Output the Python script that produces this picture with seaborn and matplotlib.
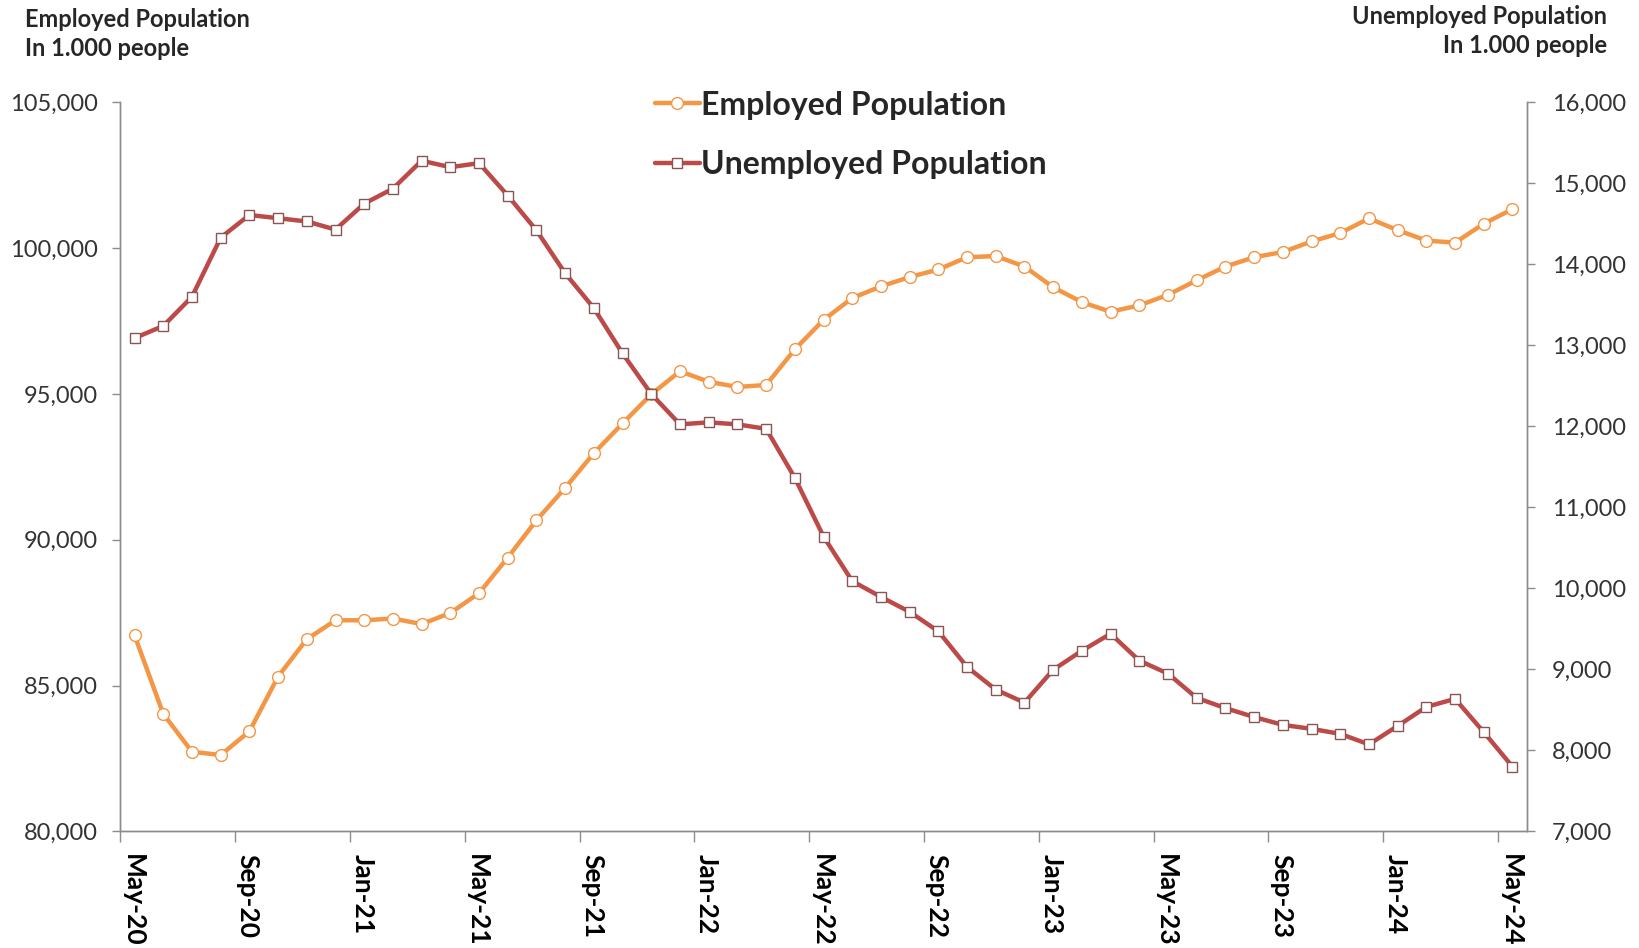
import numpy as np
import pandas as pd
import matplotlib
matplotlib.use("Agg")
import matplotlib.pyplot as plt
import seaborn as sns

# monthly data, May-20 .. May-24 (in 1,000 people)
months = pd.date_range("2020-05-01", "2024-05-01", freq="MS")
employed = [86720, 84030, 82730, 82620, 83430, 85310, 86590, 87240, 87240, 87300,
            87110, 87490, 88170, 89390, 90670, 91780, 92970, 93990, 94990, 95780,
            95420, 95240, 95310, 96530, 97540, 98290, 98690, 99010, 99270, 99690,
            99730, 99370, 98660, 98150, 97820, 98040, 98400, 98900, 99370, 99690,
            99870, 100230, 100520, 101020, 100620, 100260, 100190, 100840, 101340]
unemployed = [13090, 13240, 13600, 14330, 14610, 14570, 14530, 14430, 14750, 14935,
              15280, 15200, 15250, 14850, 14420, 13890, 13460, 12900, 12400, 12025,
              12050, 12025, 11970, 11365, 10640, 10090, 9895, 9710, 9470, 9030,
              8750, 8590, 8995, 9230, 9440, 9108, 8948, 8648, 8522, 8412,
              8315, 8266, 8204, 8074, 8302, 8537, 8636, 8225, 7799]
tick_labels = ["May-20", "Sep-20", "Jan-21", "May-21", "Sep-21", "Jan-22", "May-22",
               "Sep-22", "Jan-23", "May-23", "Sep-23", "Jan-24", "May-24"]

df = pd.DataFrame({
    "pos": np.arange(len(months)) + 0.5,   # points sit mid-month
    "Employed Population": employed,
    "Unemployed Population": unemployed,
})

sns.set_theme(style="white")
plt.rcParams["font.family"] = ["Lato", "DejaVu Sans"]

orange = "#F39645"
red = "#BC4A48"
grey = "#8C8C8C"

fig = plt.figure(figsize=(16.4, 9.48), dpi=100)
ax = fig.add_axes([0.0733, 0.123, 0.8577, 0.769])
ax2 = ax.twinx()

sns.lineplot(data=df, x="pos", y="Employed Population", ax=ax, color=orange,
             lw=3.2, marker="o", markersize=8.5, markerfacecolor="white",
             markeredgecolor=orange, markeredgewidth=1.0, label="Employed Population",
             legend=False, zorder=3)
sns.lineplot(data=df, x="pos", y="Unemployed Population", ax=ax2, color=red,
             lw=3.2, marker="s", markersize=7.2, markerfacecolor="white",
             markeredgecolor="#8a5555", markeredgewidth=1.0, label="Unemployed Population",
             legend=False, zorder=3)

ax.set_xlim(0, 49)
ax.set_ylim(80000, 105000)
ax2.set_ylim(7000, 16000)
ax.set_yticks(np.arange(80000, 105001, 5000))
ax2.set_yticks(np.arange(7000, 16001, 1000))
ax.yaxis.set_major_formatter(matplotlib.ticker.StrMethodFormatter("{x:,.0f}"))
ax2.yaxis.set_major_formatter(matplotlib.ticker.StrMethodFormatter("{x:,.0f}"))

# tick marks at month starts; Excel draws the date labels a bit to the right of them
ax.set_xticks(np.arange(0, 49, 4))
ax.set_xticklabels([])
ax.set_xticks(np.arange(0, 49, 4) + 0.44, minor=True)
ax.set_xticklabels(tick_labels, minor=True, rotation=-90, fontweight="bold",
                   fontsize=19, color="black", va="top", ha="center")
ax.set_xlabel("")
ax.set_ylabel("")
ax2.set_ylabel("")

for a in (ax, ax2):
    a.grid(False)
    for s in a.spines.values():
        s.set_color(grey)
        s.set_linewidth(1.0)
    a.spines["top"].set_visible(False)
ax.tick_params(axis="y", direction="out", length=6, width=1, color=grey,
               labelsize=17, labelcolor="#333333", pad=10, left=True)
ax.tick_params(axis="x", which="major", direction="out", length=8, width=1,
               color=grey, bottom=True)
ax.tick_params(axis="x", which="minor", length=0, pad=16, bottom=True)
ax2.tick_params(axis="y", direction="out", length=6, width=1, color=grey,
                labelsize=17, labelcolor="#333333", pad=12, right=True)

fig.text(0.015, 0.992, "Employed Population\nIn 1.000 people", ha="left", va="top",
         fontsize=17, fontweight="bold", linespacing=1.35)
fig.text(0.98, 0.995, "Unemployed Population\nIn 1.000 people", ha="right", va="top",
         fontsize=17, fontweight="bold", linespacing=1.35, multialignment="right")

h1, l1 = ax.get_legend_handles_labels()
h2, l2 = ax2.get_legend_handles_labels()
leg = fig.legend(h1 + h2, l1 + l2, loc="upper left", bbox_to_anchor=(0.3915, 0.918),
                 frameon=False, fontsize=23, handlelength=1.4, handletextpad=0.05,
                 labelspacing=0.95, borderaxespad=0)
for t in leg.get_texts():
    t.set_fontweight("bold")

fig.savefig("out.png", dpi=100)
